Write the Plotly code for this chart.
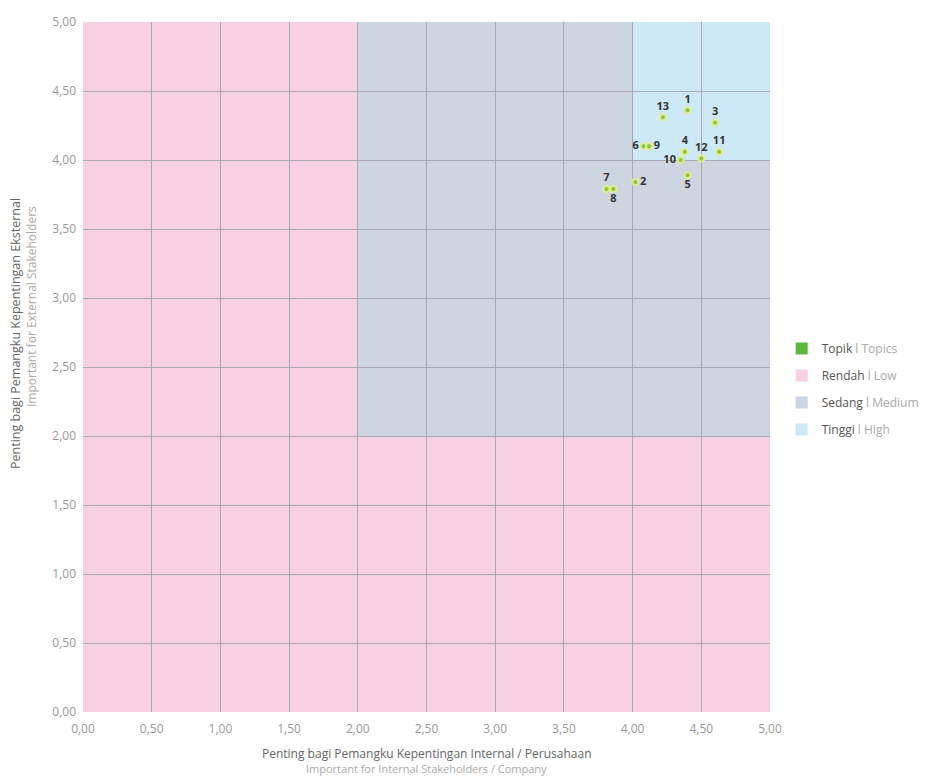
import plotly.graph_objects as go

labels = ["1", "2", "3", "4", "5", "6", "7", "8", "9", "10", "11", "12", "13"]
x_internal = [4.40, 4.02, 4.60, 4.38, 4.40, 4.08, 3.81, 3.86, 4.12, 4.35, 4.63, 4.50, 4.22]
y_external = [4.36, 3.84, 4.27, 4.06, 3.89, 4.10, 3.79, 3.79, 4.10, 4.00, 4.06, 4.01, 4.31]
label_pos = ["top center", "middle right", "top center", "top center", "bottom center",
             "middle left", "top center", "bottom center", "middle right", "middle left",
             "top center", "top center", "top center"]

tick_vals = [0, 0.5, 1, 1.5, 2, 2.5, 3, 3.5, 4, 4.5, 5]

zones = [
    ("Rendah", "Low", "#f7d0e4", 0, 5, 0, 5),
    ("Sedang", "Medium", "#cdd5e0", 2, 5, 2, 5),
    ("Tinggi", "High", "#cde8f6", 4, 5, 4, 5),
]

FONT = "Open Sans, DejaVu Sans"

fig = go.Figure()

shapes = []
for name, en, col, x0, x1, y0, y1 in zones:
    shapes.append(dict(type="rect", xref="x", yref="y", x0=x0, x1=x1, y0=y0, y1=y1,
                       fillcolor=col, line=dict(width=0), layer="below"))

fig.add_trace(go.Scatter(
    x=x_internal, y=y_external, mode="markers+text", text=labels,
    textposition=label_pos,
    textfont=dict(family=FONT, size=11, color="#333333", weight=700),
    marker=dict(color="#8cc63e", size=6, line=dict(color="rgba(225,240,150,0.9)", width=2)),
    showlegend=False,
))
fig.add_trace(go.Scatter(
    x=[None], y=[None], mode="markers", legendgroup="t",
    marker=dict(symbol="square", size=11, color="#5cb83a"),
    name="<span style='color:#555555'>Topik</span> <span style='color:#aaaaaa'>l Topics</span>",
))
for name, en, col, *_ in zones:
    fig.add_trace(go.Scatter(
        x=[None], y=[None], mode="markers", legendgroup=name,
        marker=dict(symbol="square", size=11, color=col),
        name=f"<span style='color:#555555'>{name}</span> <span style='color:#aaaaaa'>l {en}</span>",
    ))

axis_common = dict(
    range=[0, 5], tickvals=tick_vals, tickformat=".2f",
    showgrid=True, gridcolor="#a8a8b4", gridwidth=1,
    zeroline=False, showline=False,
    tickfont=dict(family=FONT, size=12, color="#999999"),
    fixedrange=True,
)

fig.update_layout(
    width=919, height=770,
    margin=dict(l=75, r=157, t=14, b=66, autoexpand=False),
    paper_bgcolor="white", plot_bgcolor="white",
    separators=",.",
    shapes=shapes,
    xaxis=dict(**axis_common, ticklabelstandoff=8),
    yaxis=dict(**axis_common, ticklabelstandoff=6),
    legend=dict(x=1.017, y=0.548, xanchor="left", yanchor="top",
                font=dict(family=FONT, size=12, color="#555555"),
                tracegroupgap=8, itemsizing="constant", bgcolor="rgba(0,0,0,0)"),
    showlegend=True,
    annotations=[
        dict(xref="paper", yref="paper", x=0.5, y=0, yshift=-32, xanchor="center", yanchor="top",
             text="Penting bagi Pemangku Kepentingan Internal / Perusahaan", showarrow=False,
             borderpad=0, font=dict(family=FONT, size=12, color="#666666")),
        dict(xref="paper", yref="paper", x=0.5, y=0, yshift=-48, xanchor="center", yanchor="top",
             text="Important for Internal Stakeholders / Company", showarrow=False,
             borderpad=0, font=dict(family=FONT, size=11, color="#aaaaaa")),
        dict(xref="paper", yref="paper", x=0, y=0.5, xshift=-68, yshift=33, xanchor="center", yanchor="middle",
             text="Penting bagi Pemangku Kepentingan Eksternal", showarrow=False, textangle=-90,
             borderpad=0, font=dict(family=FONT, size=12.5, color="#666666")),
        dict(xref="paper", yref="paper", x=0, y=0.5, xshift=-52, yshift=60, xanchor="center", yanchor="middle",
             text="Important for External Stakeholders", showarrow=False, textangle=-90,
             borderpad=0, font=dict(family=FONT, size=12, color="#aaaaaa")),
    ],
)

fig.write_html("out.html")
